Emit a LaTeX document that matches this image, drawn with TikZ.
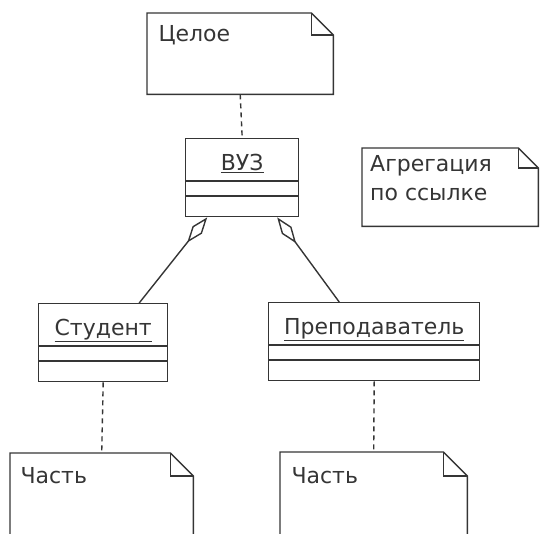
\documentclass[tikz,border=0pt]{standalone}
\usepackage{fontspec}
\setmainfont{DejaVu Sans}
\usetikzlibrary{arrows.meta}
\definecolor{ink}{HTML}{353535}

\begin{document}
\begin{tikzpicture}[x=1pt,y=-1pt,font=\fontsize{22}{29}\selectfont,text=ink,
  ln/.style={ink,line width=1.4pt},
  cls/.style={draw=ink,line width=1.4pt,minimum height=78pt,inner sep=0pt,anchor=north west},
  nt/.style={inner sep=0pt,anchor=north west},
  agg/.style={ln,-{Diamond[open,length=32pt,width=12pt]}},
  dep/.style={ln,dash pattern=on 5pt off 4pt}]
\useasboundingbox (0,0) rectangle (545,533);
\clip (0,0) rectangle (545,533);
% classes
\node[cls,minimum width=113pt] (vuz) at (185,138) {};
\node[cls,minimum width=129pt] (stud) at (38,303) {};
\node[cls,minimum width=211pt] (teach) at (268,302) {};
\foreach \c/\t in {vuz/ВУЗ,stud/Студент,teach/Преподаватель}{
  \draw[ln] ([yshift=-43pt]\c.north west) -- ([yshift=-43pt]\c.north east);
  \draw[ln] ([yshift=-58pt]\c.north west) -- ([yshift=-58pt]\c.north east);
  \node[anchor=base] (\c-name) at ([yshift=-32pt]\c.north) {\underline{\t}};}
% notes
\node[nt,minimum width=186pt,minimum height=81pt] (whole) at (147,13) {};
\node[nt,minimum width=176pt,minimum height=78pt] (aggr) at (362,148) {};
\node[nt,minimum width=183pt,minimum height=110pt] (part1) at (10,453) {};
\node[nt,minimum width=187pt,minimum height=110pt] (part2) at (280,452) {};
\foreach \n/\f in {whole/22,aggr/20,part1/23,part2/24}{
  \draw[ln] (\n.south west) -- (\n.north west) -- ([xshift=-\f pt]\n.north east)
    -- ([yshift=-\f pt]\n.north east) -- (\n.south east) -- cycle;
  \draw[ln] ([xshift=-\f pt]\n.north east) |- ([yshift=-\f pt]\n.north east);}
\node[anchor=base west] (whole-txt) at ([xshift=8pt,yshift=-28pt]whole.north west) {Целое};
\node[anchor=north west,inner sep=0pt,align=left] (aggr-txt) at ([xshift=8pt,yshift=-7pt]aggr.north west) {Агрегация\\по ссылке};
\node[anchor=base west] (part1-txt) at ([xshift=7pt,yshift=-30pt]part1.north west) {Часть};
\node[anchor=base west] (part2-txt) at ([xshift=8pt,yshift=-31pt]part2.north west) {Часть};
% links
\draw[dep] (whole.south) -- (vuz.north);
\draw[dep] (stud.south) -- (part1.north);
\draw[dep] (teach.south) -- (part2.north);
\draw[agg] ([xshift=36pt]stud.north) -- ([xshift=-35pt]vuz.south);
\draw[agg] ([xshift=-35pt]teach.north) -- ([xshift=35pt]vuz.south);
\end{tikzpicture}
\end{document}
